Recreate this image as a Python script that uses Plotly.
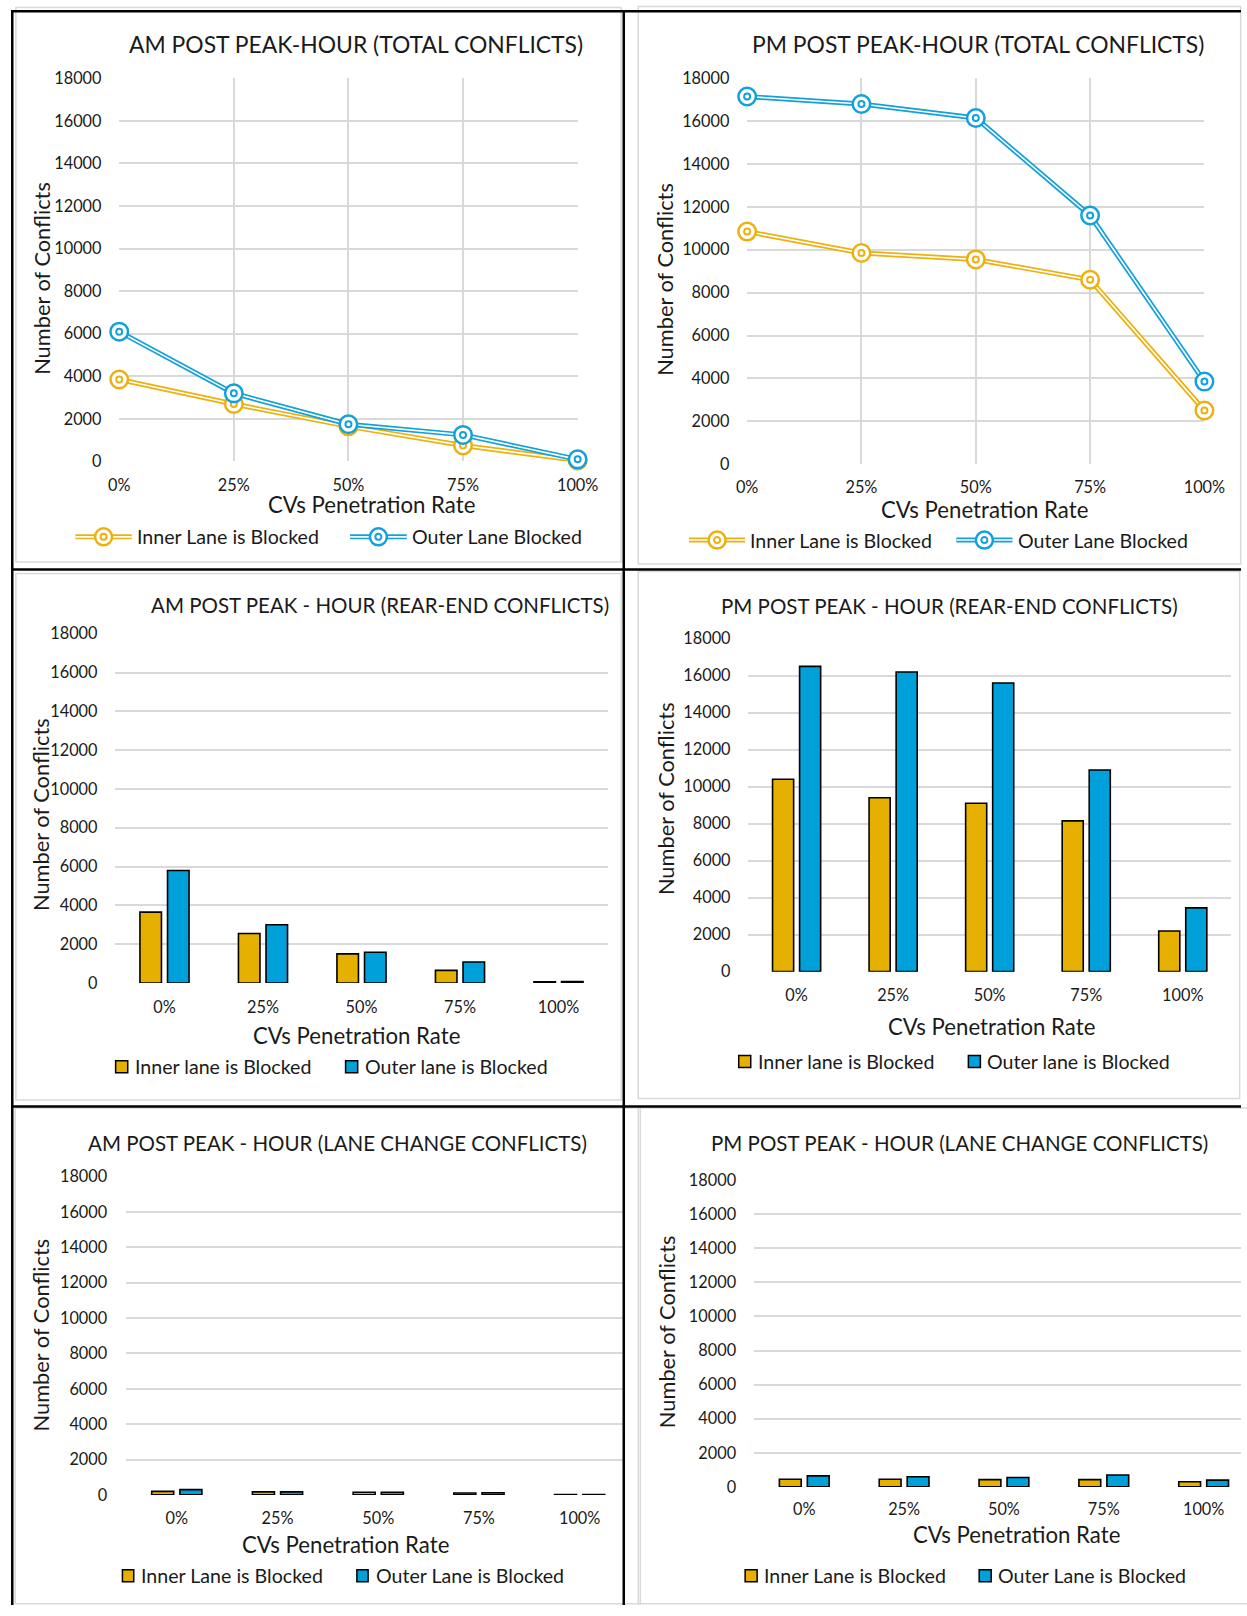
import plotly.graph_objects as go

# ---------------------------------------------------------------- data
CATEGORIES = ["0%", "25%", "50%", "75%", "100%"]
Y_TICKS = [0, 2000, 4000, 6000, 8000, 10000, 12000, 14000, 16000, 18000]

AM_TOTAL_INNER = [3850, 2700, 1650, 750, 50]
AM_TOTAL_OUTER = [6100, 3200, 1750, 1250, 100]
PM_TOTAL_INNER = [10850, 9850, 9550, 8600, 2500]
PM_TOTAL_OUTER = [17150, 16800, 16150, 11600, 3850]

AM_REAR_INNER = [3650, 2550, 1500, 650, 60]
AM_REAR_OUTER = [5800, 3000, 1580, 1080, 70]
PM_REAR_INNER = [10400, 9400, 9100, 8150, 2200]
PM_REAR_OUTER = [16500, 16200, 15600, 10900, 3450]

AM_LANE_INNER = [200, 170, 150, 110, 25]
AM_LANE_OUTER = [300, 170, 150, 120, 25]
PM_LANE_INNER = [450, 450, 430, 430, 300]
PM_LANE_OUTER = [650, 600, 550, 700, 400]

# ---------------------------------------------------------------- geometry
# Layout positions are written in sheet pixels (a 1247 x 1616 sheet) and
# mapped onto the figure canvas with a linear transform.
W, H = 1262, 1614
SX, OX = 1.02667, -11.43
SY, OY = 1.01105, -9.12


def cx_(x):
    return SX * x + OX


def cy_(y):
    return SY * y + OY


def fx(x):
    return cx_(x) / W


def fy(y):
    return 1 - cy_(y) / H


# ---------------------------------------------------------------- style
FONT = "Lato"
TEXT = "#1a1a1a"
GRID = "#D9D9D9"
FRAME = "#D9D9D9"
GOLD_LINE = "#ECB00F"
BLUE_LINE = "#12A1DA"
GOLD_BAR = "#E6B000"
BLUE_BAR = "#00A0DA"
LINE_TITLE_SIZE = 22.9
BAR_TITLE_SIZE = 20.5
X_TITLE_SIZE = 22.2
Y_TITLE_SIZE = 21.8
TICK_SIZE = 16.3
LEGEND_SIZE = 19.6

panels = [
    dict(kind="line", title="AM POST PEAK-HOUR (TOTAL CONFLICTS)",
         inner=AM_TOTAL_INNER, outer=AM_TOTAL_OUTER,
         names=("Inner Lane is Blocked", "Outer Lane Blocked"),
         xdom=(119.3, 577.4), ydom=(77.4, 460.9), xr=(0, 4), xticklen=9, yticklen=13.5,
         title_xy=(356, 42.6), ytitle_xy=(42.2, 278), xtitle_xy=(371, 503.5),
         leg_y=536.3, leg=[(75.5, 131.8, 134.6), (350, 406.6, 410)]),
    dict(kind="line", title="PM POST PEAK-HOUR (TOTAL CONFLICTS)",
         inner=PM_TOTAL_INNER, outer=PM_TOTAL_OUTER,
         names=("Inner Lane is Blocked", "Outer Lane Blocked"),
         xdom=(746.8, 1203.8), ydom=(77.4, 463.5), xr=(0, 4), xticklen=8, yticklen=13.5,
         title_xy=(977.9, 42.6), ytitle_xy=(664, 278.8), xtitle_xy=(983.9, 509),
         leg_y=539.5, leg=[(688.8, 744.8, 748), (955.9, 1011.9, 1015)]),
    dict(kind="bar", title="AM POST PEAK - HOUR (REAR-END CONFLICTS)",
         inner=AM_REAR_INNER, outer=AM_REAR_OUTER,
         names=("Inner lane is Blocked", "Outer lane is Blocked"),
         xdom=(115.3, 607.5), ydom=(633.3, 982.8), xr=(-0.5, 4.5), xticklen=9, yticklen=13.5,
         title_xy=(379.7, 604.6), ytitle_xy=(40.5, 814.3), xtitle_xy=(356.4, 1035),
         leg_y=1066.6, leg=[(115.7, 127.8, 132.6), (345.5, 357.6, 362.8)]),
    dict(kind="bar", title="PM POST PEAK - HOUR (REAR-END CONFLICTS)",
         inner=PM_REAR_INNER, outer=PM_REAR_OUTER,
         names=("Inner lane is Blocked", "Outer lane is Blocked"),
         xdom=(748, 1230.4), ydom=(638.2, 971.5), xr=(-0.5, 4.5), xticklen=9, yticklen=13.5,
         title_xy=(948.7, 605.7), ytitle_xy=(666, 798.5), xtitle_xy=(991, 1026.5),
         leg_y=1061.3, leg=[(738.4, 750.4, 756), (967.9, 979.9, 985)]),
    dict(kind="bar", title="AM POST PEAK - HOUR (LANE CHANGE CONFLICTS)",
         inner=AM_LANE_INNER, outer=AM_LANE_OUTER,
         names=("Inner Lane is Blocked", "Outer Lane is Blocked"),
         xdom=(126.5, 623), ydom=(1176.7, 1495.2), xr=(-0.5, 4.433), xticklen=9, yticklen=15,
         title_xy=(337.5, 1142.8), ytitle_xy=(40.2, 1335.5), xtitle_xy=(345.5, 1544.5),
         leg_y=1576, leg=[(122.5, 133.8, 139.4), (356.8, 368, 373.7)]),
    dict(kind="bar", title="PM POST PEAK - HOUR (LANE CHANGE CONFLICTS)",
         inner=PM_LANE_INNER, outer=PM_LANE_OUTER,
         names=("Inner Lane is Blocked", "Outer Lane is Blocked"),
         xdom=(754, 1252.9), ydom=(1180, 1487.2), xr=(-0.5, 4.5), xticklen=8, yticklen=14,
         title_xy=(959, 1142.8), ytitle_xy=(667, 1332), xtitle_xy=(1016, 1534.7),
         leg_y=1576, leg=[(744.8, 756.8, 762), (978.7, 990.7, 996)]),
]

# chart-area frames (light grey) of each chart object
frames = [
    (16, 6.5, 620.8, 561.6),
    (638, 5.5, 1240, 563.5),
    (16, 573, 621, 1100),
    (638, 571, 1239, 1098.4),
    (15.3, 1108, 640, 1612.7),
    (638, 1108, 1270, 1612.7),
]

fig = go.Figure()
shapes = []
annotations = []
layout_axes = {}

for i, p in enumerate(panels, start=1):
    xa = "x" if i == 1 else f"x{i}"
    ya = "y" if i == 1 else f"y{i}"
    xkey = "xaxis" if i == 1 else f"xaxis{i}"
    ykey = "yaxis" if i == 1 else f"yaxis{i}"
    is_line = p["kind"] == "line"

    if is_line:
        for color, vals in ((GOLD_LINE, p["inner"]), (BLUE_LINE, p["outer"])):
            # double (compound) line: wide coloured stroke with a white core
            fig.add_trace(go.Scatter(x=CATEGORIES, y=vals, mode="lines",
                                     line=dict(color=color, width=5),
                                     xaxis=xa, yaxis=ya, showlegend=False,
                                     cliponaxis=False, hoverinfo="skip"))
            fig.add_trace(go.Scatter(x=CATEGORIES, y=vals, mode="lines",
                                     line=dict(color="white", width=1.6),
                                     xaxis=xa, yaxis=ya, showlegend=False,
                                     cliponaxis=False, hoverinfo="skip"))
            # bullseye markers: outer ring + inner ring
            fig.add_trace(go.Scatter(x=CATEGORIES, y=vals, mode="markers",
                                     marker=dict(symbol="circle", size=17.5, color="white",
                                                 line=dict(color=color, width=2.5)),
                                     xaxis=xa, yaxis=ya, showlegend=False,
                                     cliponaxis=False))
            fig.add_trace(go.Scatter(x=CATEGORIES, y=vals, mode="markers",
                                     marker=dict(symbol="circle", size=6, color="white",
                                                 line=dict(color=color, width=2)),
                                     xaxis=xa, yaxis=ya, showlegend=False,
                                     cliponaxis=False, hoverinfo="skip"))
    else:
        fig.add_trace(go.Bar(x=CATEGORIES, y=p["inner"], name=p["names"][0],
                             marker=dict(color=GOLD_BAR, line=dict(color="black", width=1.6)),
                             xaxis=xa, yaxis=ya, showlegend=False))
        fig.add_trace(go.Bar(x=CATEGORIES, y=p["outer"], name=p["names"][1],
                             marker=dict(color=BLUE_BAR, line=dict(color="black", width=1.6)),
                             xaxis=xa, yaxis=ya, showlegend=False))

    # horizontal domain, trimmed (with its range) where it runs past the canvas
    d0, d1 = fx(p["xdom"][0]), fx(p["xdom"][1])
    r0, r1 = p["xr"]
    if d1 > 1.0:
        r1 = r0 + (r1 - r0) * (1.0 - d0) / (d1 - d0)
        d1 = 1.0

    layout_axes[xkey] = dict(
        domain=[d0, d1], anchor=ya,
        type="category", range=[r0, r1],
        showgrid=is_line, gridcolor=GRID, gridwidth=1.5,
        zeroline=False, showline=False,
        ticks="outside", ticklen=p["xticklen"], tickcolor="rgba(0,0,0,0)",
        tickfont=dict(family=FONT, size=TICK_SIZE, color=TEXT),
        fixedrange=True,
    )
    layout_axes[ykey] = dict(
        domain=[fy(p["ydom"][1]), fy(p["ydom"][0])], anchor=xa,
        range=[0, 18000], tickvals=Y_TICKS, ticktext=[str(v) for v in Y_TICKS],
        showgrid=True, gridcolor=GRID, gridwidth=1.5,
        zeroline=False, showline=False,
        ticks="outside", ticklen=p["yticklen"], tickcolor="rgba(0,0,0,0)",
        tickfont=dict(family=FONT, size=TICK_SIZE, color=TEXT),
        fixedrange=True,
    )

    # chart title and axis titles
    tx, ty = p["title_xy"]
    annotations.append(dict(text=p["title"], x=fx(tx), y=fy(ty), xref="paper", yref="paper",
                            xanchor="center", yanchor="middle", showarrow=False,
                            font=dict(family=FONT, color=TEXT,
                                      size=LINE_TITLE_SIZE if is_line else BAR_TITLE_SIZE)))
    yx, yy = p["ytitle_xy"]
    annotations.append(dict(text="Number of Conflicts", x=fx(yx), y=fy(yy), xref="paper",
                            yref="paper", xanchor="center", yanchor="middle", showarrow=False,
                            textangle=-90,
                            font=dict(family=FONT, size=Y_TITLE_SIZE, color=TEXT)))
    xx, xy = p["xtitle_xy"]
    annotations.append(dict(text="CVs Penetration Rate", x=fx(xx), y=fy(xy), xref="paper",
                            yref="paper", xanchor="center", yanchor="middle", showarrow=False,
                            font=dict(family=FONT, size=X_TITLE_SIZE, color=TEXT)))

    # legend
    ly = p["leg_y"]
    cols = (GOLD_LINE, BLUE_LINE) if is_line else (GOLD_BAR, BLUE_BAR)
    for (k0, k1, tstart), name, col in zip(p["leg"], p["names"], cols):
        if is_line:
            shapes.append(dict(type="line", xref="paper", yref="paper",
                               x0=fx(k0), x1=fx(k1), y0=fy(ly), y1=fy(ly),
                               line=dict(color=col, width=5)))
            shapes.append(dict(type="line", xref="paper", yref="paper",
                               x0=fx(k0), x1=fx(k1), y0=fy(ly), y1=fy(ly),
                               line=dict(color="white", width=1.6)))
            mx = (k0 + k1) / 2
            for r, lw in ((8.5, 2.5), (3.0, 2)):
                shapes.append(dict(type="circle", xref="paper", yref="paper",
                                   x0=fx(mx - r), x1=fx(mx + r), y0=fy(ly + r), y1=fy(ly - r),
                                   fillcolor="white", line=dict(color=col, width=lw)))
        else:
            shapes.append(dict(type="rect", xref="paper", yref="paper",
                               x0=fx(k0), x1=fx(k1), y0=fy(ly + 6), y1=fy(ly - 6),
                               fillcolor=col, line=dict(color="black", width=1.5)))
        annotations.append(dict(text=name, x=fx(tstart), y=fy(ly), xref="paper", yref="paper",
                                xanchor="left", yanchor="middle", showarrow=False,
                                font=dict(family=FONT, size=LEGEND_SIZE, color=TEXT)))

# light grey chart-area frames (kept on the canvas)
for x0, y0, x1, y1 in frames:
    shapes.append(dict(type="rect", xref="paper", yref="paper", layer="below",
                       x0=fx(x0), x1=min(fx(x1), 1.2), y0=max(fy(y1), 1.2 / H), y1=fy(y0),
                       line=dict(color=FRAME, width=1.5), fillcolor="rgba(0,0,0,0)"))

# black table rules around the six charts (outer rules sit on the canvas edge)
edge = 1.3
rules = [
    (0, 1 - edge / H, 1, 1 - edge / H),                       # top
    (edge / W, 0, edge / W, 1),                               # left
    (fx(623.5), 0, fx(623.5), 1),                             # middle
    (0, fy(569), 1, fy(569)),
    (0, fy(1106.5), 1, fy(1106.5)),
]
for x0, y0, x1, y1 in rules:
    shapes.append(dict(type="line", xref="paper", yref="paper",
                       x0=x0, x1=x1, y0=y0, y1=y1,
                       line=dict(color="black", width=2.5)))

fig.update_layout(
    width=W, height=H, autosize=False,
    margin=dict(l=0, r=0, t=0, b=0),
    paper_bgcolor="white", plot_bgcolor="white",
    barmode="group", bargap=0.44, bargroupgap=0.22,
    showlegend=False,
    shapes=shapes, annotations=annotations,
    **layout_axes,
)

fig.write_html("out.html")
